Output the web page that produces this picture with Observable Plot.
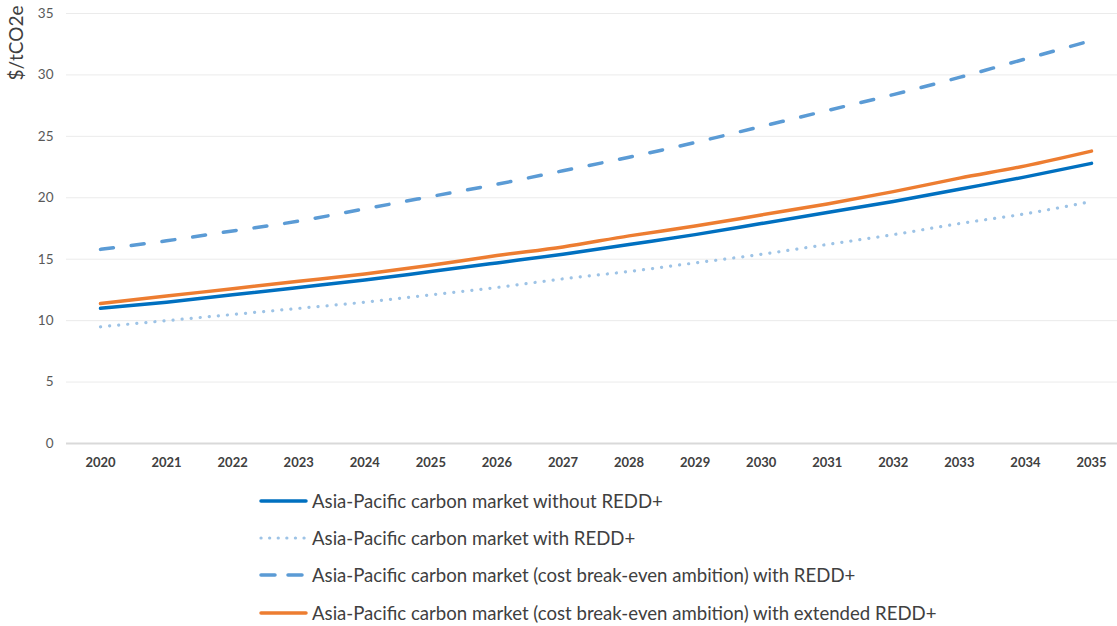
<!DOCTYPE html>
<html>
<head>
<meta charset="utf-8">
<script src="https://cdn.jsdelivr.net/npm/d3@7"></script>
<script src="https://cdn.jsdelivr.net/npm/@observablehq/plot@0.6"></script>
<style>
  html, body { margin: 0; padding: 0; background: #fff; }
  #chart { position: relative; width: 1117px; height: 626px; font-family: Lato, "Open Sans", sans-serif; }
  #legend { position: absolute; left: 258px; top: 482px; }
  .row { display: flex; align-items: center; height: 37.3px; }
  .row svg { width: 52px; height: 12px; flex: none; }
  .row span { font-size: 18.6px; color: #404040; margin-left: 2px; white-space: nowrap; }
</style>
</head>
<body>
<div id="chart"></div>
<script>
const years = [2020, 2021, 2022, 2023, 2024, 2025, 2026, 2027, 2028, 2029, 2030, 2031, 2032, 2033, 2034, 2035];
const yTicks = [0, 5, 10, 15, 20, 25, 30, 35];
const seriesNames = [
  "Asia-Pacific carbon market without REDD+",
  "Asia-Pacific carbon market with REDD+",
  "Asia-Pacific carbon market (cost break-even ambition) with REDD+",
  "Asia-Pacific carbon market (cost break-even ambition) with extended REDD+"
];
const withoutREDD = [11.0, 11.5, 12.1, 12.7, 13.3, 14.0, 14.7, 15.4, 16.2, 17.0, 17.9, 18.8, 19.7, 20.7, 21.7, 22.8];
const withREDD = [9.5, 10.0, 10.5, 11.0, 11.5, 12.1, 12.7, 13.4, 14.0, 14.7, 15.4, 16.2, 17.0, 17.9, 18.7, 19.7];
const breakEvenREDD = [15.8, 16.5, 17.3, 18.1, 19.1, 20.1, 21.1, 22.2, 23.3, 24.5, 25.8, 27.1, 28.4, 29.8, 31.3, 32.8];
const breakEvenExtREDD = [11.4, 12.0, 12.6, 13.2, 13.8, 14.5, 15.3, 16.0, 16.9, 17.7, 18.6, 19.5, 20.5, 21.6, 22.6, 23.8];

const styles = [
  {stroke: "#0070C0", strokeWidth: 3.5, dash: null},
  {stroke: "#9DC3E6", strokeWidth: 3.2, dash: "0.1 9"},
  {stroke: "#5B9BD5", strokeWidth: 3.5, dash: "13 18"},
  {stroke: "#ED7D31", strokeWidth: 3.5, dash: null}
];
const seriesValues = [withoutREDD, withREDD, breakEvenREDD, breakEvenExtREDD];
const tables = seriesValues.map((vals, i) => years.map((yr, j) => ({year: yr, value: vals[j], series: seriesNames[i]})));

const lineMarks = [2, 1, 0, 3].map(i => Plot.line(tables[i], {
  x: "year", y: "value",
  stroke: styles[i].stroke,
  strokeWidth: styles[i].strokeWidth,
  strokeDasharray: styles[i].dash,
  strokeLinecap: "round",
  curve: "monotone-x"
}));

const plot = Plot.plot({
  width: 1117,
  height: 470,
  marginLeft: 66,
  marginRight: 0,
  marginTop: 13,
  marginBottom: 27,
  style: {fontFamily: "Lato, 'Open Sans', sans-serif", background: "#fff", overflow: "visible"},
  x: {type: "linear", domain: [2020, 2035], range: [100, 1091]},
  y: {domain: [0, 35]},
  marks: [
    Plot.ruleY(yTicks.filter(d => d > 0), {stroke: "#ebebeb", strokeWidth: 1}),
    Plot.ruleY([0], {stroke: "#d9d9d9", strokeWidth: 2}),
    Plot.axisY({ticks: yTicks, tickSize: 0, tickPadding: 13, fontSize: 13.5, fill: "#595959", label: null}),
    Plot.axisX({ticks: years, tickFormat: d => String(d), tickSize: 0, tickPadding: 14, fontSize: 13, fontWeight: "bold", fill: "#404040", label: null}),
    Plot.text(["$/tCO2e"], {frameAnchor: "top-left", rotate: -90, textAnchor: "end", lineAnchor: "middle", dx: -50, dy: -8, fontSize: 19, fill: "#404040"}),
    ...lineMarks
  ]
});

const chart = document.getElementById("chart");
chart.appendChild(plot);

const legend = document.createElement("div");
legend.id = "legend";
seriesNames.forEach((name, i) => {
  const s = styles[i];
  const row = document.createElement("div");
  row.className = "row";
  let dash = "";
  if (i === 1) dash = 'stroke-dasharray="0.1 8.5"';
  if (i === 2) dash = 'stroke-dasharray="14 13"';
  row.innerHTML = `<svg viewBox="0 0 52 12"><line x1="3" x2="48" y1="6" y2="6" stroke="${s.stroke}" stroke-width="${s.strokeWidth}" stroke-linecap="round" ${dash}/></svg><span>${name}</span>`;
  legend.appendChild(row);
});
chart.appendChild(legend);
</script>
</body>
</html>
